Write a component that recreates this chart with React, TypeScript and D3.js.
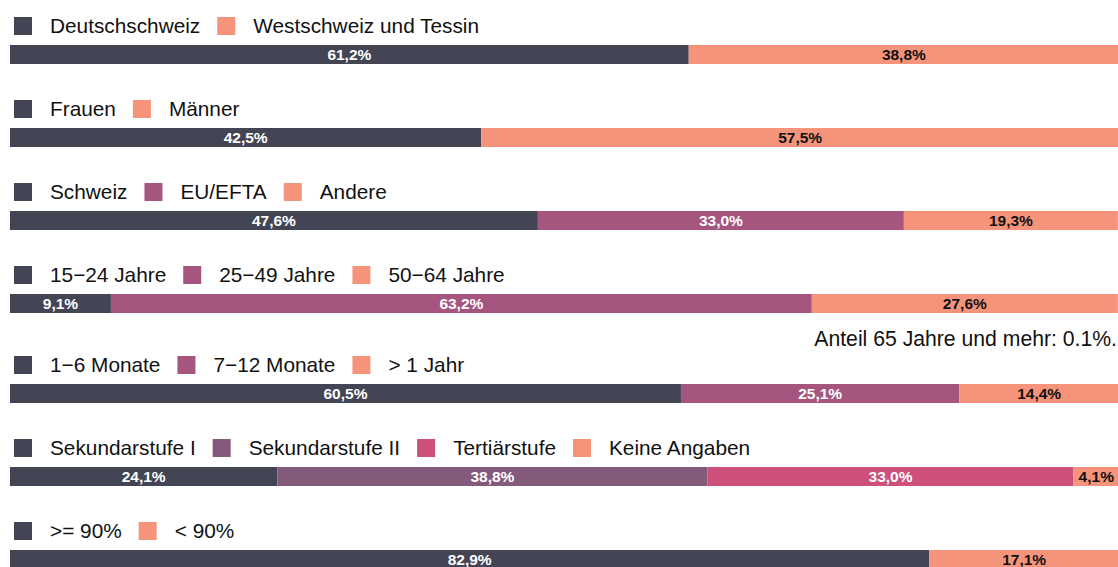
import React, { useRef, useEffect } from 'react';
import { select, scaleLinear } from 'd3';

// categories and values per block
const regionCats = ['Deutschschweiz', 'Westschweiz und Tessin'];
const regionVals = [61.2, 38.8];
const genderCats = ['Frauen', 'Männer'];
const genderVals = [42.5, 57.5];
const nationCats = ['Schweiz', 'EU/EFTA', 'Andere'];
const nationVals = [47.6, 33.0, 19.3];
const ageCats = ['15−24 Jahre', '25−49 Jahre', '50−64 Jahre'];
const ageVals = [9.1, 63.2, 27.6];
const durationCats = ['1−6 Monate', '7−12 Monate', '> 1 Jahr'];
const durationVals = [60.5, 25.1, 14.4];
const eduCats = ['Sekundarstufe I', 'Sekundarstufe II', 'Tertiärstufe', 'Keine Angaben'];
const eduVals = [24.1, 38.8, 33.0, 4.1];
const rateCats = ['>= 90%', '< 90%'];
const rateVals = [82.9, 17.1];

const ageNote = 'Anteil 65 Jahre und mehr: 0.1%.';

const DARK = '#434555';
const ORANGE = '#f5947b';
const PURPLE = '#a6557f';
const PLUM = '#845a7b';
const PINK = '#cc4f7c';

const rows = [
  { cats: regionCats, vals: regionVals, colors: [DARK, ORANGE] },
  { cats: genderCats, vals: genderVals, colors: [DARK, ORANGE] },
  { cats: nationCats, vals: nationVals, colors: [DARK, PURPLE, ORANGE] },
  { cats: ageCats, vals: ageVals, colors: [DARK, PURPLE, ORANGE], note: ageNote },
  { cats: durationCats, vals: durationVals, colors: [DARK, PURPLE, ORANGE] },
  { cats: eduCats, vals: eduVals, colors: [DARK, PLUM, PINK, ORANGE] },
  { cats: rateCats, vals: rateVals, colors: [DARK, ORANGE] },
];

const WIDTH = 1118;
const HEIGHT = 567;
const FONT = '"Liberation Sans", Arial, sans-serif';

const fmt = (v: number) => v.toFixed(1).replace('.', ',') + '%';

const App = () => {
  const svgRef = useRef<SVGSVGElement>(null);

  useEffect(() => {
    const svg = select(svgRef.current);
    svg.selectAll('*').remove();

    const x = scaleLinear().domain([0, 100]).range([10, 1119]);
    const barH = 19;
    let barTop = 45;

    rows.forEach((row) => {
      const g = svg.append('g');

      // legend
      let lx = 14;
      row.cats.forEach((c, i) => {
        g.append('rect')
          .attr('x', lx)
          .attr('y', barTop - 28)
          .attr('width', 18)
          .attr('height', 18)
          .attr('fill', row.colors[i]);
        const t = g
          .append('text')
          .attr('x', lx + 36)
          .attr('y', barTop - 12)
          .attr('font-size', 20.8)
          .attr('fill', '#111')
          .text(c);
        const w = (t.node() as SVGTextElement).getComputedTextLength();
        lx = lx + 36 + w + 17;
      });

      // stacked bar
      let acc = 0;
      row.vals.forEach((v, i) => {
        const x0 = x(acc);
        const x1 = x(acc + v);
        acc += v;
        g.append('rect')
          .attr('x', x0)
          .attr('y', barTop)
          .attr('width', x1 - x0)
          .attr('height', barH)
          .attr('fill', row.colors[i]);
        g.append('text')
          .attr('x', Math.min((x0 + x1) / 2, WIDTH - 20))
          .attr('y', barTop + barH / 2 + 5.5)
          .attr('text-anchor', 'middle')
          .attr('font-size', 15.5)
          .attr('font-weight', 'bold')
          .attr('fill', row.colors[i] === ORANGE ? '#111' : '#fff')
          .text(fmt(v));
      });

      if (row.note) {
        g.append('text')
          .attr('x', 1117)
          .attr('y', barTop + barH + 33)
          .attr('text-anchor', 'end')
          .attr('font-size', 21.2)
          .attr('fill', '#111')
          .text(row.note);
        barTop += 7;
      }
      barTop += 83;
    });
  }, []);

  return (
    <svg
      ref={svgRef}
      width={WIDTH}
      height={HEIGHT}
      style={{ position: 'absolute', left: 0, top: 0, fontFamily: FONT, background: '#fff' }}
    />
  );
};

export default App;
